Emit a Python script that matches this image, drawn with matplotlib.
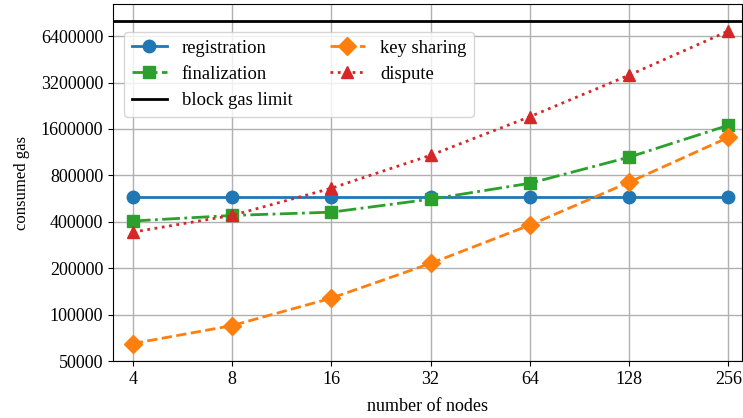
"""Gas consumption vs number of nodes (log-log)"""
import matplotlib
matplotlib.use("Agg")
import matplotlib.pyplot as plt
from matplotlib.ticker import FixedLocator, FixedFormatter, NullLocator

plt.rcParams["font.family"] = ["Liberation Serif", "DejaVu Serif"]
plt.rcParams["font.size"] = 13

nodes = [4, 8, 16, 32, 64, 128, 256]
registration = [580000, 580000, 580000, 580000, 580000, 580000, 580000]
finalization = [405000, 440000, 462000, 561000, 711000, 1050000, 1690000]
key_sharing = [65000, 85000, 128000, 215000, 381000, 722000, 1410000]
dispute = [343000, 440000, 660000, 1080000, 1920000, 3570000, 6900000]
block_gas_limit = 8000000

y_ticks = [50000, 100000, 200000, 400000, 800000, 1600000, 3200000, 6400000]

fig = plt.figure(figsize=(7.43, 4.18), dpi=100)
ax = fig.add_axes([0.152, 0.136, 0.847, 0.854])

h_reg, = ax.plot(nodes, registration, "o-", color="C0", lw=2, ms=9, label="registration")
h_fin, = ax.plot(nodes, finalization, "s-.", color="C2", lw=2, ms=9, label="finalization")
h_lim = ax.axhline(block_gas_limit, color="black", lw=2, label="block gas limit")
h_key, = ax.plot(nodes, key_sharing, "D--", color="C1", lw=2, ms=9, label="key sharing")
h_dis, = ax.plot(nodes, dispute, "^:", color="C3", lw=2, ms=9, label="dispute")

ax.set_xscale("log", base=2)
ax.set_yscale("log")
ax.set_xlim(4 * 2 ** -0.2, 256 * 2 ** 0.14)
ax.set_ylim(50000, 10300000)

ax.xaxis.set_major_locator(FixedLocator(nodes))
ax.xaxis.set_major_formatter(FixedFormatter([str(n) for n in nodes]))
ax.xaxis.set_minor_locator(NullLocator())
ax.yaxis.set_major_locator(FixedLocator(y_ticks))
ax.yaxis.set_major_formatter(FixedFormatter([str(v) for v in y_ticks]))
ax.yaxis.set_minor_locator(NullLocator())

ax.grid(True, color="#b0b0b0", lw=1)
ax.set_axisbelow(True)
ax.set_xlabel("number of nodes", labelpad=7)
ax.set_ylabel("consumed gas", fontsize=12, labelpad=8)

ax.legend(handles=[h_reg, h_fin, h_lim, h_key, h_dis], ncol=2, loc="upper left",
          bbox_to_anchor=(0.003, 0.948), fontsize=13.4, labelspacing=0.5,
          handlelength=1.9)

plt.savefig("out.png", dpi=100)
plt.close()
